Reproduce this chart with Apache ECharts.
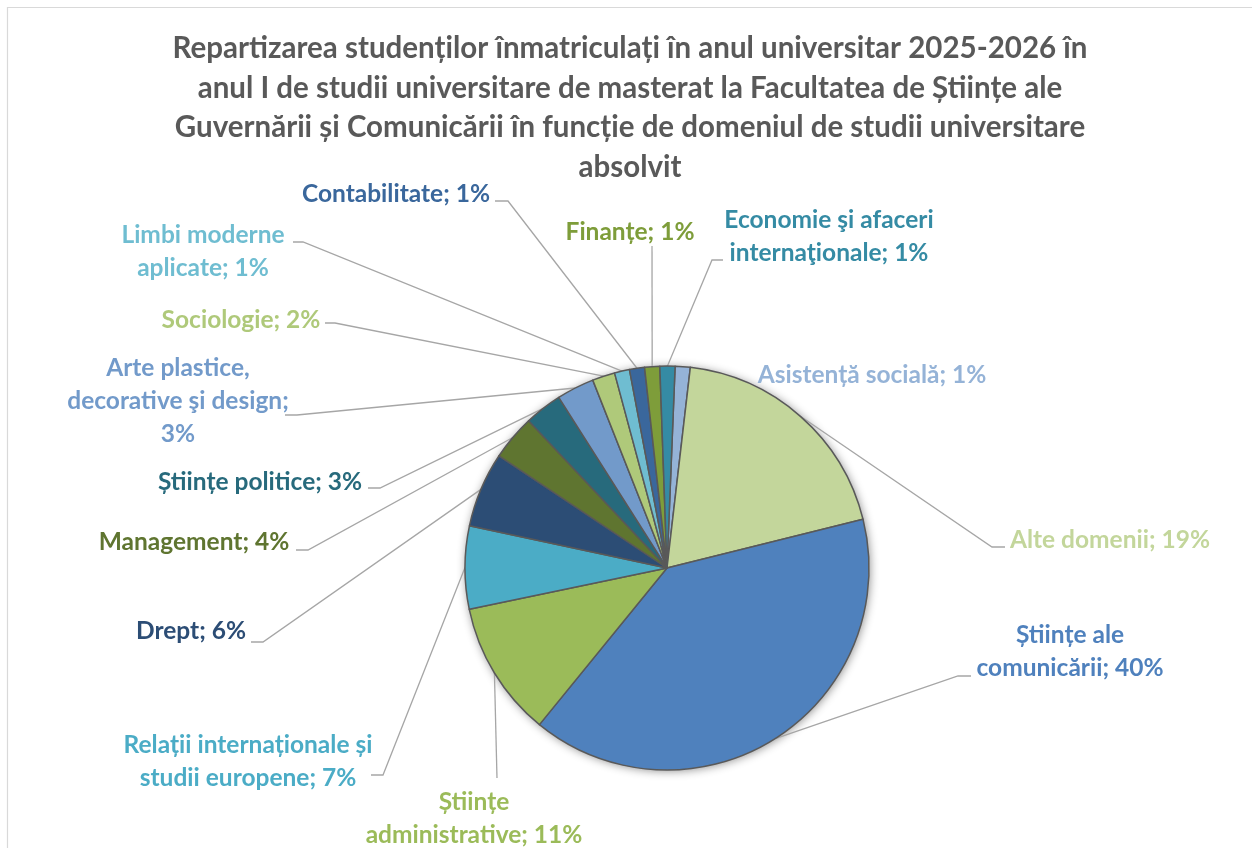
<!DOCTYPE html>
<html><head><meta charset="utf-8">
<script src="https://cdn.jsdelivr.net/npm/echarts@6/dist/echarts.min.js"></script>
<style>html,body{margin:0;padding:0;background:#fff}#c{width:1252px;height:848px}</style>
</head><body><div id="c"></div>
<script>
// ---- data ----
const titleLines = [
  'Repartizarea studenților înmatriculați în anul universitar 2025-2026 în',
  'anul I de studii universitare de masterat la Facultatea de Științe ale',
  'Guvernării și Comunicării în funcție de domeniul de studii universitare',
  'absolvit'
];
const categories = [
  'Asistență socială',
  'Alte domenii',
  'Științe ale\ncomunicării',
  'Științe\nadministrative',
  'Relații internaționale și\nstudii europene',
  'Drept',
  'Management',
  'Științe politice',
  'Arte plastice,\ndecorative şi design',
  'Sociologie',
  'Limbi moderne\naplicate',
  'Contabilitate',
  'Finanțe',
  'Economie şi afaceri\ninternaţionale'
];
const students = [2, 32, 66, 18, 11, 10, 6, 5, 5, 3, 2, 2, 2, 2];

// ---- styles / layout ----
const colors = ['#95B3D7','#C3D69B','#4F81BD','#9BBB59','#4BACC6','#2C4D75','#5F7530',
                '#276A7C','#729ACA','#AFC97A','#6FBDD1','#3A679C','#7E9D3A','#358BA4'];
const breakBeforePct = [false,false,false,false,false,false,false,false,true,false,false,false,false,false];
// label anchor (center) + leader end + elbow
const labelSpec = [
  {x: 872,  y: 375,   end: null},
  {x: 1110, y: 540,   end: [1005, 547], elbow: [992, 547]},
  {x: 1070, y: 652,   end: [971, 676],  elbow: [958, 676]},
  {x: 474,  y: 819,   end: [497, 778],  elbow: null},
  {x: 248,  y: 762,   end: [371, 775],  elbow: [383, 775]},
  {x: 191,  y: 631,   end: [251, 642],  elbow: [263, 642]},
  {x: 194,  y: 542,   end: [296, 550],  elbow: [308, 550]},
  {x: 260,  y: 482,   end: [368, 488],  elbow: [380, 488]},
  {x: 178,  y: 401,   end: [285, 415],  elbow: [297, 415]},
  {x: 241,  y: 320,   end: [325, 323],  elbow: [335, 323]},
  {x: 203,  y: 252,   end: [293, 242],  elbow: [303, 242]},
  {x: 396,  y: 194,   end: [495, 201],  elbow: [508, 201]},
  {x: 630,  y: 232,   end: [652, 246],  elbow: null},
  {x: 829,  y: 237,   end: [723, 260],  elbow: [712, 260]}
];
const FONT = 'Lato';

const chart = echarts.init(document.getElementById('c'), null, {renderer: 'canvas'});
const pieData = categories.map((n, i) => ({
  name: n,
  value: students[i],
  itemStyle: {color: colors[i]},
  label: {color: colors[i]},
  labelLine: {show: labelSpec[i].end != null}
}));

chart.setOption({
  animation: false,
  backgroundColor: '#ffffff',
  graphic: [{
    type: 'rect', silent: true, z: -10,
    shape: {x: 7.5, y: 7.5, width: 1400, height: 1000},
    style: {fill: 'none', stroke: '#D9D9D9', lineWidth: 1.2}
  }],
  title: {
    text: titleLines.join('\n'),
    left: 630, top: 29, textAlign: 'center', padding: 0,
    textStyle: {fontFamily: FONT, fontWeight: 'bold', fontSize: 29.5, lineHeight: 39.5, color: '#595959'}
  },
  series: [
    {
      type: 'pie', silent: true, z: 1,
      center: [667, 568], radius: 202,
      label: {show: false}, labelLine: {show: false},
      itemStyle: {color: '#ffffff', shadowBlur: 10, shadowColor: 'rgba(0,0,0,0.45)', shadowOffsetX: 1, shadowOffsetY: 1},
      data: [{value: 1, name: 'shadow'}]
    },
    {
      type: 'pie', z: 2,
      center: [667, 568], radius: 202,
      startAngle: 87.7, clockwise: true,
      percentPrecision: 0,
      avoidLabelOverlap: false,
      itemStyle: {borderColor: '#595959', borderWidth: 1.5},
      label: {
        show: true, position: 'outside',
        fontFamily: FONT, fontWeight: 'bold', fontSize: 24.5, lineHeight: 33,
        formatter: p => p.name + ';' + (breakBeforePct[p.dataIndex] ? '\n' : ' ') + p.percent + '%'
      },
      labelLine: {show: true, length: 10, length2: 10, lineStyle: {color: '#A6A6A6', width: 1.3}},
      labelLayout: function (params) {
        const s = labelSpec[params.dataIndex];
        const res = {x: s.x, y: s.y, align: 'center', verticalAlign: 'middle'};
        if (s.end && params.labelLinePoints) {
          const start = params.labelLinePoints[0];
          const mid = s.elbow || s.end;
          res.labelLinePoints = [[start[0], start[1]], [mid[0], mid[1]], [s.end[0], s.end[1]]];
        }
        return res;
      },
      data: pieData
    }
  ]
});
</script>
</body></html>
